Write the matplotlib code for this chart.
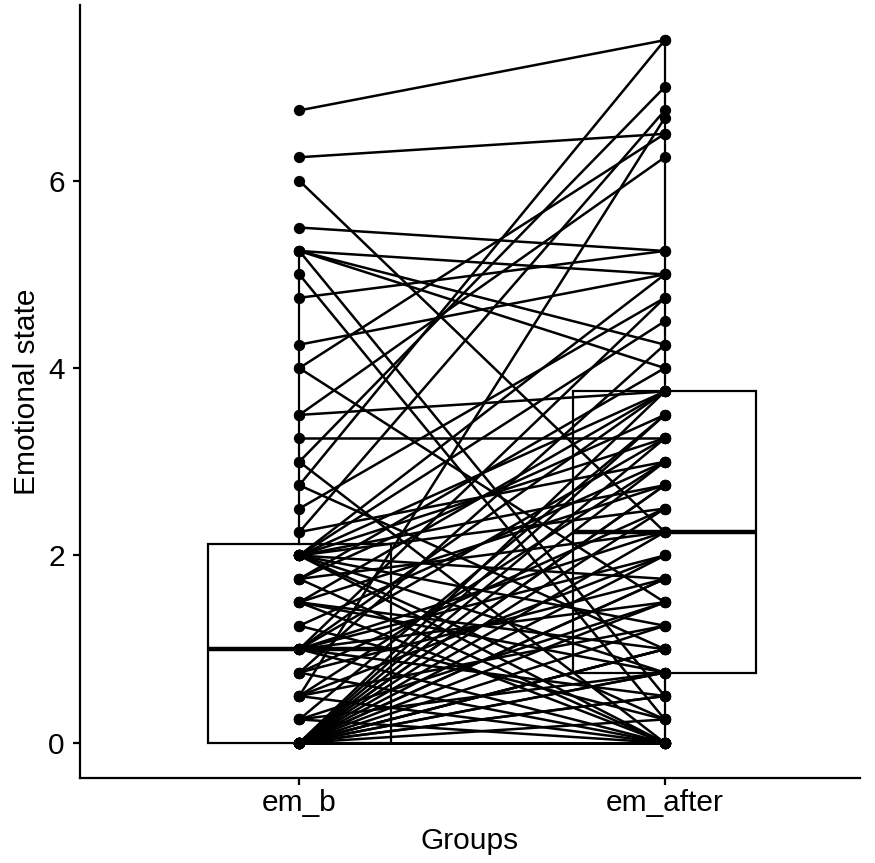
import matplotlib
matplotlib.use("Agg")
import matplotlib.pyplot as plt

plt.rcParams['font.family'] = ['Liberation Sans', 'DejaVu Sans']

groups = ["em_b", "em_after"]

# paired scores, one entry per participant (before, after)
em_b = [6.75, 6.25, 6.0, 5.5, 5.25, 5.25, 5.25, 5.25, 5.0, 4.75,
        4.25, 4.0, 4.0, 3.5, 3.5, 3.25, 3.0, 3.0, 2.75, 2.75,
        2.5, 2.25, 2.25, 2.0, 2.0, 2.0, 2.0, 2.0, 2.0, 2.0,
        2.0, 2.0, 2.0, 2.0, 1.75, 1.75, 1.75, 1.75, 1.5, 1.5,
        1.5, 1.5, 1.5, 1.25, 1.25, 1.0, 1.0, 1.0, 1.0, 1.0,
        1.0, 1.0, 1.0, 0.75, 0.75, 0.75, 0.75, 0.5, 0.5, 0.5,
        0.5, 0.5, 0.25, 0.25, 0.25, 0.25,
        0, 0, 0, 0, 0, 0, 0, 0, 0, 0,
        0, 0, 0, 0, 0, 0, 0, 0, 0, 0,
        0, 0, 0, 0, 0]
em_after = [7.5, 6.5, 2.25, 5.25, 5.0, 4.25, 4.0, 0.5, 0.25, 5.25,
            5.0, 6.5, 1.5, 6.25, 3.75, 3.25, 7.0, 0.0, 7.5, 1.0,
            4.75, 6.75, 3.0, 4.5, 3.75, 2.75, 0.0, 1.75, 3.25, 0.75,
            2.5, 5.0, 1.25, 0.25, 3.5, 0.0, 2.25, 4.0, 3.75, 0.75,
            2.75, 0.0, 1.0, 3.0, 0.25, 4.75, 2.0, 0.0, 3.25, 1.5,
            0.5, 2.25, 3.75, 2.5, 0.0, 1.75, 4.25, 6.67, 3.0, 1.25,
            0.0, 2.0, 3.5, 0.75, 1.5, 0.0,
            3.75, 3.5, 3.25, 3.0, 2.75, 2.75, 2.5, 2.25, 2.0, 1.75,
            1.75, 1.5, 1.25, 1.0, 1.0, 1.0, 0.75, 0.75, 0.5, 0.5,
            0.25, 0.0, 0.0, 0.0, 0.0]

fig = plt.figure(figsize=(8.75, 8.63), dpi=100)
ax = fig.add_axes([0.0914, 0.0985, 0.8914, 0.8957])

pos = [1, 2]
bp = ax.boxplot([em_b, em_after], positions=pos, widths=0.5, whis=1.5,
                showfliers=False, showcaps=False, patch_artist=True,
                boxprops=dict(facecolor='white', edgecolor='black', linewidth=1.6),
                whiskerprops=dict(color='black', linewidth=1.6),
                medianprops=dict(color='black', linewidth=3.2),
                zorder=1)

# one line per participant joining the two measurements
for b, a in zip(em_b, em_after):
    ax.plot(pos, [b, a], color='black', linewidth=1.8, zorder=2,
            solid_capstyle='butt')
ax.scatter([1] * len(em_b), em_b, s=66, color='black', zorder=3, linewidths=0)
ax.scatter([2] * len(em_after), em_after, s=66, color='black', zorder=3, linewidths=0)

ax.set_xlim(0.4, 2.534)
ax.set_ylim(-0.375, 7.875)
ax.set_xticks(pos)
ax.set_xticklabels(groups)
ax.set_yticks([0, 2, 4, 6])

for side in ['top', 'right']:
    ax.spines[side].set_visible(False)
for side in ['left', 'bottom']:
    ax.spines[side].set_linewidth(1.6)

ax.tick_params(axis='both', length=5, width=1.6, labelsize=21.5, color='black')
ax.tick_params(axis='y', pad=6)
ax.tick_params(axis='x', pad=3)

ax.set_xlabel("Groups", fontsize=21.5)
ax.set_ylabel("Emotional state", fontsize=21.5)
ax.xaxis.set_label_coords(0.5, -0.064)
ax.yaxis.set_label_coords(-0.05, 0.5)

fig.savefig("out.png", dpi=100)
